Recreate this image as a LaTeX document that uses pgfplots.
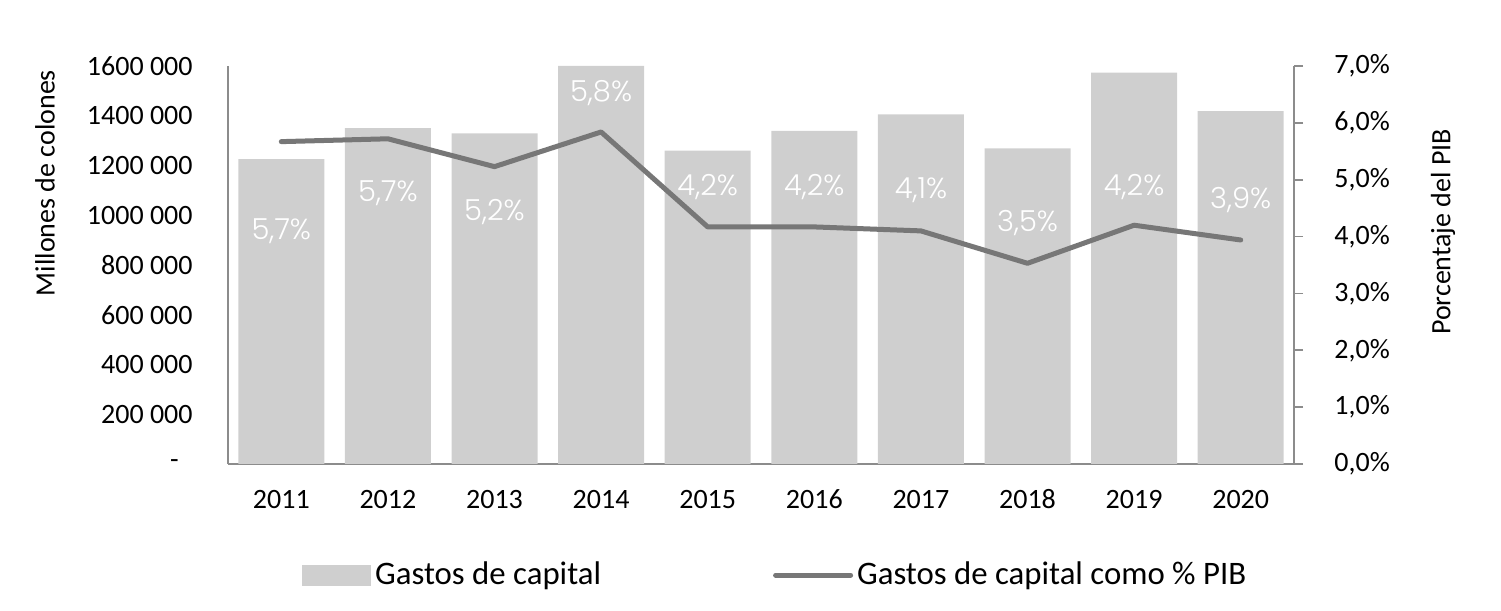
\documentclass[border=0pt]{standalone}
\usepackage{fontspec}
\setmainfont{Carlito}
\newfontfamily\labfont{Poppins Light}
\usepackage{pgfplots}
\pgfplotsset{compat=1.18}
\definecolor{barc}{HTML}{CFCFCF}
\definecolor{linec}{HTML}{777777}
\definecolor{axc}{HTML}{8C8C8C}
\newcommand{\tfont}{\fontsize{14}{16}\selectfont}
\newcommand{\lfont}{\fontsize{16.4}{19}\selectfont}
\begin{document}
\begin{tikzpicture}
\path[use as bounding box] (0,0) rectangle (750.5pt,305.5pt);
\begin{axis}[
  at={(114pt,73.5pt)}, anchor=south west,
  scale only axis, width=533pt, height=199pt,
  xmin=-0.5, xmax=9.5, ymin=0, ymax=1600000,
  axis x line*=bottom, axis y line*=left,
  axis line style={axc, line width=0.8pt, -},
  xtick={0,...,9},
  xticklabels={2011,2012,2013,2014,2015,2016,2017,2018,2019,2020},
  major tick length=0pt,
  ytick={0,200000,400000,600000,800000,1000000,1200000,1400000,1600000},
  yticklabels={{-\kern7pt\null},{200 000},{400 000},{600 000},{800 000},{1000 000},{1200 000},{1400 000},{1600 000}},
  scaled y ticks=false,
  xticklabel style={anchor=base, yshift=-22.3pt, inner sep=0pt},
  yticklabel style={anchor=east, xshift=-17.5pt, inner sep=0pt},
  tick label style={font=\tfont},
  /pgf/number format/assume math mode=true,
  ylabel={Millones de colones},
  ylabel style={at={(axis description cs:-0.1717,0.706)}, anchor=center, font=\tfont},
  clip=false,
]
\addplot[ybar, bar width=43pt, fill=barc, draw=none] coordinates {
  (0,1226000) (1,1350000) (2,1329000) (3,1600000) (4,1260000)
  (5,1339000) (6,1406000) (7,1269000) (8,1573000) (9,1419000)};
\addplot[draw=none, mark=none, nodes near coords, point meta=explicit symbolic,
  nodes near coords style={font=\labfont\fontsize{14.5}{16}\selectfont, text=white, anchor=center, inner sep=0pt}]
  coordinates {
  (0,934000) [5,7\%]
  (1,1088000) [5,7\%]
  (2,1014000) [5,2\%]
  (3,1490000) [5,8\%]
  (4,1115000) [4,2\%]
  (5,1115000) [4,2\%]
  (6,1102000) [4,1\%]
  (7,968000) [3,5\%]
  (8,1115000) [4,2\%]
  (9,1061000) [3,9\%]
  };
\end{axis}
\begin{axis}[
  at={(114pt,73.5pt)}, anchor=south west,
  scale only axis, width=533pt, height=199pt,
  xmin=-0.5, xmax=9.5, ymin=0, ymax=7,
  axis x line=none, axis y line*=right,
  axis line style={axc, line width=0.8pt, -},
  ytick={0,1,2,3,4,5,6,7},
  yticklabels={{0,0\%},{1,0\%},{2,0\%},{3,0\%},{4,0\%},{5,0\%},{6,0\%},{7,0\%}},
  tick align=outside, major tick length=4.5pt,
  tick style={axc, line width=0.8pt},
  yticklabel style={anchor=west, xshift=15.5pt, inner sep=0pt, font=\tfont},
  /pgf/number format/assume math mode=true,
  ylabel={Porcentaje del PIB},
  ylabel style={at={(axis description cs:1.1398,0.583)}, anchor=center, font=\tfont},
  clip=false,
  legend columns=2,
  legend style={at={(axis description cs:0.0694,-0.279)}, anchor=west, draw=none, fill=none,
    inner sep=0pt, font=\lfont, /tikz/every even column/.append style={column sep=84pt}},
]
\addlegendimage{legend image code/.code={\fill[barc] (0pt,-5pt) rectangle (34pt,5pt);}}
\addlegendentry{Gastos de capital}
\addplot[linec, line width=2.5pt, line join=round, line cap=round, mark=none,
  legend image code/.code={\draw[linec, line width=2.5pt, line cap=round] (0pt,0pt) -- (37.5pt,0pt);}]
  coordinates {
  (0,5.67) (1,5.72) (2,5.23) (3,5.84) (4,4.17)
  (5,4.17) (6,4.10) (7,3.53) (8,4.20) (9,3.94)};
\addlegendentry{Gastos de capital como \% PIB}
\end{axis}
\end{tikzpicture}
\end{document}
